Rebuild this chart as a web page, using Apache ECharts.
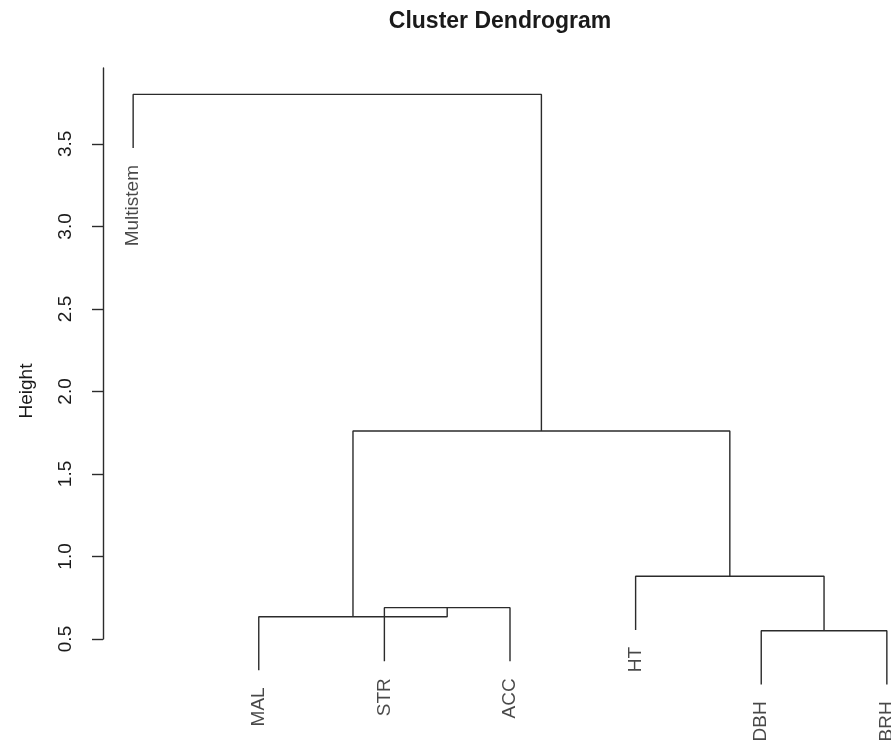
<!DOCTYPE html>
<html>
<head>
<meta charset="utf-8">
<title>Cluster Dendrogram</title>
<script src="https://cdn.jsdelivr.net/npm/echarts@6/dist/echarts.min.js"></script>
<style>
  html, body { margin: 0; padding: 0; background: #fff; }
  #chart { width: 891px; height: 744px; }
</style>
</head>
<body>
<div id="chart"></div>
<script>
// Leaves in plotting order (left to right)
const leafLabels = ['Multistem', 'MAL', 'STR', 'ACC', 'HT', 'DBH', 'BRH'];

// hclust-style merge table: negative = leaf (1-based position), positive = earlier merge step
const mergeLeft = [-6, -3, -2, -5, 3, -1];
const mergeRight = [-7, -4, 2, 1, 4, 5];
const mergeHeight = [0.55, 0.69, 0.635, 0.88, 1.76, 3.80];

// Height axis ticks
const heightTicks = [0.5, 1.0, 1.5, 2.0, 2.5, 3.0, 3.5];

const FONT = 'Liberation Sans, Arial, Helvetica, sans-serif';
const INK = '#1a1a1a';
const LINE = '#2b2b2b';

// Leaves hang below their merge by a tenth of the height range
const hang = 0.1 * (Math.max(...mergeHeight) - Math.min(...mergeHeight));

const mergePos = [];
const leafBottom = {};
const branchSeries = [];

for (let i = 0; i < mergeHeight.length; i++) {
  const h = mergeHeight[i];
  const ends = [mergeLeft[i], mergeRight[i]].map(function (c) {
    if (c < 0) {
      const k = -c;
      leafBottom[k] = h - hang;
      return [k, h - hang];
    }
    return [mergePos[c - 1], mergeHeight[c - 1]];
  });
  mergePos.push((ends[0][0] + ends[1][0]) / 2);
  branchSeries.push({
    type: 'line',
    data: [ends[0], [ends[0][0], h], [ends[1][0], h], ends[1]],
    symbol: 'none',
    clip: false,
    silent: true,
    animation: false,
    lineStyle: { color: LINE, width: 1.4 }
  });
}

const leafData = leafLabels.map(function (name, i) {
  return { name: name, value: [i + 1, leafBottom[i + 1]] };
});

const chart = echarts.init(document.getElementById('chart'), null, { renderer: 'canvas' });

chart.setOption({
  backgroundColor: '#fff',
  animation: false,
  grid: {
    left: 103,
    top: 68,
    width: 814,
    height: 571,
    containLabel: false,
    outerBoundsMode: 'none'
  },
  xAxis: {
    type: 'value',
    min: 0.76,
    max: 7.24,
    show: false
  },
  yAxis: {
    type: 'value',
    min: 0.5,
    max: 3.96,
    axisLine: { show: true, lineStyle: { color: LINE, width: 1.4 } },
    axisTick: {
      show: true,
      length: 11,
      customValues: heightTicks,
      lineStyle: { color: LINE, width: 1.4 }
    },
    axisLabel: {
      show: true,
      customValues: heightTicks,
      rotate: 90,
      margin: 28,
      fontSize: 19,
      fontFamily: FONT,
      color: INK,
      formatter: function (v) { return v.toFixed(1); }
    },
    splitLine: { show: false }
  },
  graphic: [
    {
      type: 'text',
      x: 500,
      y: 22,
      style: {
        text: 'Cluster Dendrogram',
        font: 'bold 23px ' + FONT,
        fill: INK,
        textAlign: 'center',
        textVerticalAlign: 'middle'
      }
    },
    {
      type: 'text',
      x: 27,
      y: 391,
      rotation: Math.PI / 2,
      style: {
        text: 'Height',
        font: '19px ' + FONT,
        fill: INK,
        textAlign: 'center',
        textVerticalAlign: 'middle'
      }
    }
  ],
  series: branchSeries.concat([
    {
      type: 'scatter',
      data: leafData,
      symbolSize: 0,
      silent: true,
      clip: false,
      label: {
        show: true,
        position: 'bottom',
        distance: 17,
        rotate: 90,
        align: 'right',
        verticalAlign: 'middle',
        formatter: '{b}',
        fontSize: 19,
        fontFamily: FONT,
        color: INK
      }
    }
  ])
});
</script>
</body>
</html>
